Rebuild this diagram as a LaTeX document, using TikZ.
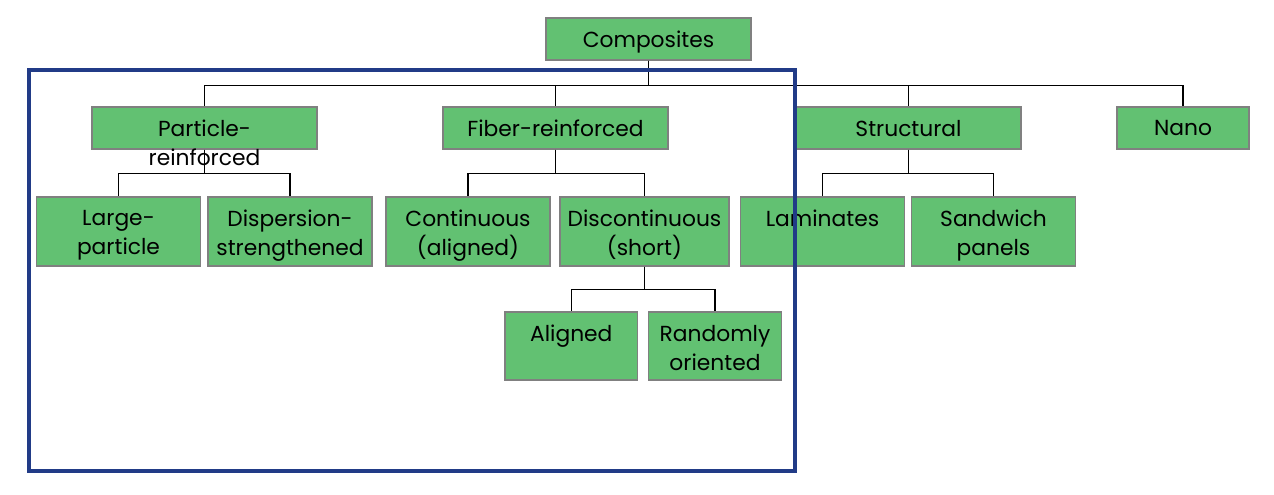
\documentclass[tikz,border=0pt]{standalone}
\usepackage{fontspec}
\setmainfont{Poppins}
\usepackage{tikz}
\definecolor{boxgreen}{RGB}{98,193,114}
\definecolor{boxgray}{RGB}{128,128,128}
\definecolor{frameblue}{RGB}{33,59,135}
\tikzset{
  box/.style={draw=boxgray,line width=0.8pt,fill=boxgreen,inner sep=0pt,minimum height=0.84cm,minimum width=4.5cm},
  tallbox/.style={box,minimum height=1.38cm,minimum width=3.28cm},
  txt/.style={anchor=north,inner sep=0pt,align=center,yshift=-0.27cm,font=\fontsize{12.4}{16.4}\selectfont},
  link/.style={line width=0.8pt,black}
}
\begin{document}
\begin{tikzpicture}[x=0.02cm,y=-0.02cm]
\useasboundingbox[fill=white] (0,0) rectangle (1274,494);
%top level
\node[box,minimum width=4.1cm,label={[txt]north:Composites}] (comp) at (648.5,39) {};
%second level
\node[box,label={[txt]north:{Particle-\\reinforced}}] (part) at (204.5,128) {};
\node[box,label={[txt]north:Fiber-reinforced}] (fib) at (555.5,128) {};
\node[box,label={[txt]north:Structural}] (struc) at (908.5,128) {};
\node[box,minimum width=2.64cm,label={[txt]north:Nano}] (nano) at (1183,128) {};
%third level
\node[tallbox,label={[txt]north:{Large-\\particle}}] (large) at (118.5,231.5) {};
\node[tallbox,label={[txt]north:{Dispersion-\\strengthened}}] (disp) at (290,231.5) {};
\node[tallbox,label={[txt]north:{Continuous\\(aligned)}}] (cont) at (468,231.5) {};
\node[tallbox,minimum width=3.38cm,label={[txt]north:{Discontinuous\\(short)}}] (disc) at (644.5,231.5) {};
\node[tallbox,label={[txt]north:Laminates}] (lam) at (822.5,231.5) {};
\node[tallbox,label={[txt]north:{Sandwich\\panels}}] (sand) at (993.5,231.5) {};
%fourth level
\node[tallbox,minimum width=2.66cm,minimum height=1.36cm,label={[txt]north:Aligned}] (alig) at (571.3,346) {};
\node[tallbox,minimum width=2.66cm,minimum height=1.36cm,label={[txt]north:{Randomly\\oriented}}] (rand) at (715,346) {};
%connectors
\foreach \c in {part,fib,struc,nano}
  \draw[link] (comp.south) -- ++(0,25) -| (\c.north);
\foreach \c in {large,disp}
  \draw[link] (part.south) -- ++(0,24) -| (\c.north);
\foreach \c in {cont,disc}
  \draw[link] (fib.south) -- ++(0,24) -| (\c.north);
\foreach \c in {lam,sand}
  \draw[link] (struc.south) -- ++(0,24) -| (\c.north);
\foreach \c in {alig,rand}
  \draw[link] (disc.south) -- ++(0,23) -| (\c.north);
%frame
\draw[frameblue,line width=2.2pt] (29,70) rectangle (795,471);
\end{tikzpicture}
\end{document}
